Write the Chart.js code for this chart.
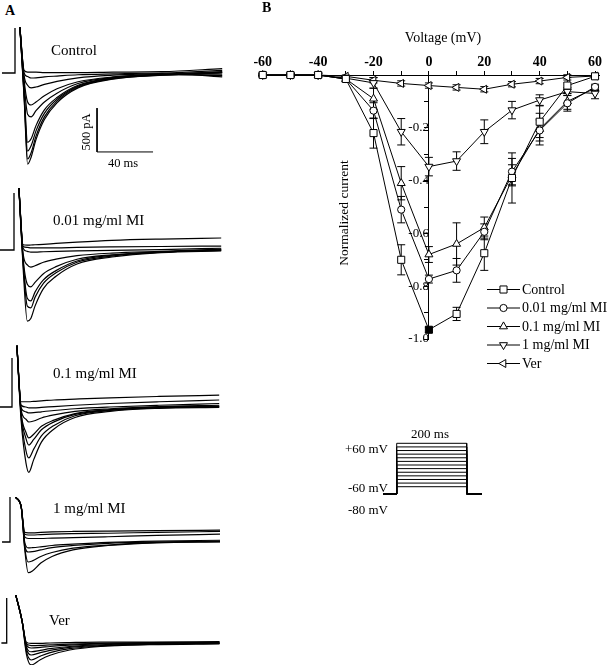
<!DOCTYPE html>
<html><head><meta charset="utf-8">
<script src="https://cdn.jsdelivr.net/npm/chart.js@4.4.1/dist/chart.umd.min.js"></script>
<style>
html,body{margin:0;padding:0;background:#fff;overflow:hidden;width:609px;height:665px;}
#wrap{position:relative;width:609px;height:665px;font-family:"Liberation Serif","Times New Roman",serif;color:#000;}
canvas{position:absolute;display:block;}
.t{position:absolute;white-space:nowrap;line-height:1;}
.c{transform:translate(-50%,-50%);}
.l{transform:translateY(-50%);}
.r{transform:translateY(-50%);text-align:right;}
.rot{transform:translate(-50%,-50%) rotate(-90deg);}
</style></head><body><div id="wrap">
<canvas id="cControl"></canvas>
<canvas id="c001"></canvas>
<canvas id="c01"></canvas>
<canvas id="c1"></canvas>
<canvas id="cVer"></canvas>
<canvas id="cIV"></canvas>
<canvas id="cProt"></canvas>

<div class="t l" style="left:5px;top:11px;font-size:14px;font-weight:bold;">A</div>
<div class="t l" style="left:262px;top:8px;font-size:14px;font-weight:bold;">B</div>
<div class="t l" style="left:51px;top:50px;font-size:15px;">Control</div>
<div class="t rot" style="left:86px;top:132px;font-size:12.5px;">500 pA</div>
<div class="t c" style="left:123px;top:163px;font-size:12.5px;">40 ms</div>
<div class="t l" style="left:53px;top:220px;font-size:15px;">0.01 mg/ml MI</div>
<div class="t l" style="left:53px;top:373px;font-size:15px;">0.1 mg/ml MI</div>
<div class="t l" style="left:53px;top:508px;font-size:15px;">1 mg/ml MI</div>
<div class="t l" style="left:49px;top:620px;font-size:15px;">Ver</div>
<div class="t c" style="left:443px;top:38px;font-size:14px;">Voltage (mV)</div>
<div class="t c" style="left:430px;top:433px;font-size:13px;">200 ms</div>
<div class="t r" style="right:221px;top:448px;font-size:13px;">+60 mV</div>
<div class="t r" style="right:221px;top:487px;font-size:13px;">-60 mV</div>
<div class="t r" style="right:221px;top:509px;font-size:13px;">-80 mV</div>
</div>
<script>
// ================= DATA =================
// Panel B: normalized I-V relationship
const voltages   = [-60, -50, -40, -30, -20, -10, 0, 10, 20, 30, 40, 50, 60];
const control    = [0, 0, 0, -0.015, -0.22, -0.70, -0.965, -0.905, -0.675, -0.39, -0.177, -0.04, -0.005];
const controlErr = [0.005, 0.005, 0.005, 0.01, 0.057, 0.057, 0.01, 0.025, 0.065, 0.095, 0.06, 0.03, 0.01];
const mi001      = [0, 0, 0, -0.015, -0.135, -0.51, -0.773, -0.74, -0.594, -0.366, -0.21, -0.107, -0.045];
const mi001Err   = [0.005, 0.005, 0.005, 0.01, 0.03, 0.05, 0.015, 0.045, 0.03, 0.05, 0.04, 0.03, 0.01];
const mi01       = [0, 0, 0, -0.015, -0.09, -0.41, -0.68, -0.64, -0.578, -0.38, -0.205, -0.10, -0.05];
const mi01Err    = [0.005, 0.005, 0.005, 0.01, 0.04, 0.063, 0.03, 0.08, 0.04, 0.04, 0.06, 0.03, 0.01];
const mi1        = [0, 0, 0, -0.012, -0.03, -0.215, -0.347, -0.326, -0.215, -0.133, -0.095, -0.063, -0.07];
const mi1Err     = [0.005, 0.005, 0.005, 0.01, 0.02, 0.05, 0.035, 0.035, 0.045, 0.033, 0.02, 0.015, 0.02];
const ver        = [0, 0, 0, -0.005, -0.02, -0.032, -0.04, -0.047, -0.054, -0.035, -0.023, -0.009, -0.004];
const verErr     = [0.005, 0.005, 0.005, 0.005, 0.01, 0.01, 0.01, 0.01, 0.01, 0.01, 0.01, 0.01, 0.01];
const seriesLabels = ['Control', '0.01 mg/ml MI', '0.1 mg/ml MI', '1 mg/ml MI', 'Ver'];
const yAxisTitle = 'Normalized current';
const controlFilledAt = [0];   // control marker drawn solid at 0 mV

// Panel A: current traces (time in ms after step, current in pA)
const controlTimes = [3.5, 6.5, 9, 11.5, 15, 21, 30, 45, 70, 105, 148];
const controlTraces = [
  [520, -280, -1040, -960, -760, -530, -340, -170, -70, -25, 0],
  [520, -260, -980, -910, -720, -500, -320, -160, -65, -25, 5],
  [520, -230, -890, -830, -660, -460, -300, -150, -60, -20, 10],
  [520, -200, -790, -750, -600, -420, -280, -140, -55, -20, -20],
  [520, -120, -470, -500, -430, -330, -230, -120, -50, -15, 15],
  [520, -80, -330, -365, -330, -260, -180, -100, -45, -15, -30],
  [520, -30, -140, -170, -160, -130, -95, -55, -25, -5, 30],
  [520, 0, -40, -57, -55, -45, -35, -20, -10, 0, -45],
  [520, 30, 10, 10, 10, 5, 5, 5, 10, 15, 50]
];
const mi001Times = [3.5, 6.5, 9.5, 12, 15, 21, 30, 45, 70, 105, 148];
const mi001Traces = [
  [707, -200, -810, -780, -640, -440, -300, -160, -80, -30, -10],
  [707, -150, -640, -660, -540, -380, -260, -140, -70, -25, -5],
  [707, -120, -550, -580, -480, -340, -235, -125, -60, -25, 0],
  [707, -90, -390, -420, -370, -270, -190, -105, -55, -20, 5],
  [707, -40, -170, -195, -180, -140, -105, -65, -35, -15, 10],
  [707, 20, -15, -25, -25, -20, -15, -10, -5, 5, 20],
  [707, 40, 30, 25, 25, 25, 25, 30, 35, 40, 45],
  [707, 60, 55, 57, 60, 65, 75, 90, 110, 125, 137]
];
const mi01Times = [3.5, 6.5, 10, 12, 15.5, 21, 30, 45, 70, 105, 148];
const mi01Traces = [
  [700, -150, -640, -745, -600, -400, -250, -120, -50, -15, -5],
  [700, -110, -500, -580, -480, -330, -210, -100, -40, -10, 0],
  [700, -80, -360, -433, -370, -260, -170, -85, -35, -5, 5],
  [700, -60, -290, -353, -310, -220, -150, -75, -30, 0, 10],
  [700, -30, -140, -171, -160, -125, -90, -50, -20, 5, 20],
  [700, -10, -55, -68, -65, -55, -40, -20, 0, 20, 40],
  [700, 20, 0, -10, -10, -5, 5, 20, 40, 60, 80],
  [700, 60, 60, 60, 65, 70, 80, 90, 105, 120, 135]
];
const mi1Times = [4, 8, 10.5, 13, 16, 22, 30, 45, 70, 105, 150];
const mi1Traces = [
  [510, 400, -80, -350, -330, -240, -165, -90, -40, -10, 0],
  [510, 400, -60, -228, -215, -165, -120, -70, -35, -5, 5],
  [510, 400, -30, -114, -110, -90, -65, -40, -15, 0, 10],
  [510, 400, 0, -68, -65, -55, -40, -25, -5, 10, 20],
  [510, 400, 60, 40, 40, 40, 45, 50, 60, 75, 90],
  [510, 400, 90, 80, 80, 85, 90, 95, 100, 110, 120],
  [510, 400, 110, 105, 105, 110, 115, 120, 125, 130, 135]
];
const verTimes = [6.5, 11, 14, 17.5, 24, 31, 45, 67, 102, 152];
const verTraces = [
  [547, 250, -120, -250, -190, -140, -80, -40, -20, -10],
  [547, 250, -90, -194, -150, -110, -65, -35, -15, -5],
  [547, 250, -60, -137, -110, -85, -50, -30, -10, -5],
  [547, 250, -40, -100, -85, -65, -40, -20, -5, 0],
  [547, 250, -20, -57, -50, -40, -25, -10, 0, 5],
  [547, 250, -5, -30, -28, -22, -12, -5, 5, 10],
  [547, 250, 10, -5, -5, 0, 5, 10, 10, 15]
];
// voltage-step marker drawn at the start of each panel: [lead-in (ms), step height (pA)]
const stepMarkers = { control: [-9.3, 513], mi001: [-10, 650], mi01: [-8.6, 559], mi1: [-5.7, 513], ver: [-3.8, 513] };
// scale bar: 500 pA / 40 ms
const scaleBar = { t: 58.6, i: -400, dt: 40, di: 500 };

// Inset: voltage protocol
const protocolLevels = [-60, -50, -40, -30, -20, -10, 0, 10, 20, 30, 40, 50, 60];
const holdingPotential = -80;
const protocolTimes = [-39, 0, 200, 243];   // start, step on, step off, end (ms)

// ================= RENDERING =================
Chart.defaults.font.family = '"Liberation Serif", "Times New Roman", serif';
Chart.defaults.color = '#000';

function placeCanvas(id, left, top, w, h) {
  const c = document.getElementById(id);
  c.width = w; c.height = h;
  c.style.left = left + 'px'; c.style.top = top + 'px';
  c.style.width = w + 'px'; c.style.height = h + 'px';
  return c;
}

const PX_PER_MS = 1.4, PA_PER_PX = 11.4, PANEL_W = 245;
const panelDefs = [
  { id: 'cControl', top: 20, bottom: 178, baseY: 73, stepX: 15, times: controlTimes, traces: controlTraces, step: stepMarkers.control, bar: true },
  { id: 'c001', top: 185, bottom: 335, baseY: 250, stepX: 14, times: mi001Times, traces: mi001Traces, step: stepMarkers.mi001 },
  { id: 'c01', top: 340, bottom: 485, baseY: 407, stepX: 12, times: mi01Times, traces: mi01Traces, step: stepMarkers.mi01 },
  { id: 'c1', top: 490, bottom: 585, baseY: 542, stepX: 10, times: mi1Times, traces: mi1Traces, step: stepMarkers.mi1 },
  { id: 'cVer', top: 590, bottom: 665, baseY: 643, stepX: 6.7, times: verTimes, traces: verTraces, step: stepMarkers.ver }
];

panelDefs.forEach(p => {
  const c = placeCanvas(p.id, 0, p.top, PANEL_W, p.bottom - p.top);
  const datasets = p.traces.map(vals => ({
    data: p.times.map((t, i) => ({ x: t, y: vals[i] })),
    borderColor: '#000', borderWidth: 1.2, pointRadius: 0,
    cubicInterpolationMode: 'monotone', fill: false
  }));
  datasets.push({
    data: [{ x: p.step[0], y: 0 }, { x: 0, y: 0 }, { x: 0, y: p.step[1] }],
    borderColor: '#000', borderWidth: 1.3, pointRadius: 0, tension: 0, fill: false
  });
  if (p.bar) {
    datasets.push({
      data: [{ x: scaleBar.t, y: scaleBar.i }, { x: scaleBar.t, y: scaleBar.i - scaleBar.di },
             { x: scaleBar.t + scaleBar.dt, y: scaleBar.i - scaleBar.di }],
      borderColor: '#000', borderWidth: 1, pointRadius: 0, tension: 0, fill: false
    });
  }
  new Chart(c, {
    type: 'line',
    data: { datasets },
    options: {
      responsive: false, animation: false, events: [],
      layout: { padding: 0 },
      plugins: { legend: { display: false }, tooltip: { enabled: false } },
      scales: {
        x: { type: 'linear', display: false, min: -p.stepX / PX_PER_MS, max: (PANEL_W - p.stepX) / PX_PER_MS },
        y: { type: 'linear', display: false, min: -(p.bottom - p.baseY) * PA_PER_PX, max: (p.baseY - p.top) * PA_PER_PX }
      }
    }
  });
});

// ---- Panel B ----
const seriesDefs = [
  { values: control, err: controlErr, style: 'rect', r: 5, rot: 0 },
  { values: mi001, err: mi001Err, style: 'circle', r: 3.6, rot: 0 },
  { values: mi01, err: mi01Err, style: 'triangle', r: 4.6, rot: 0 },
  { values: mi1, err: mi1Err, style: 'triangle', r: 4.6, rot: 180 },
  { values: ver, err: verErr, style: 'triangle', r: 4.6, rot: 270 }
];

const errorBarPlugin = {
  id: 'errorBars',
  beforeDatasetsDraw(chart) {
    const { ctx } = chart; const xs = chart.scales.x, ys = chart.scales.y;
    ctx.save(); ctx.strokeStyle = '#000'; ctx.lineWidth = 1;
    chart.data.datasets.forEach(ds => {
      ds.data.forEach((p, i) => {
        const e = ds.errors[i]; if (!e) return;
        const px = xs.getPixelForValue(p.x);
        const y1 = ys.getPixelForValue(p.y + e), y2 = ys.getPixelForValue(p.y - e);
        ctx.beginPath();
        ctx.moveTo(px, y1); ctx.lineTo(px, y2);
        ctx.moveTo(px - 4, y1); ctx.lineTo(px + 4, y1);
        ctx.moveTo(px - 4, y2); ctx.lineTo(px + 4, y2);
        ctx.stroke();
      });
    });
    ctx.restore();
  }
};

const IV_LEFT = 240;
const legendRowsY = [289.5, 308, 326.5, 345, 363.5];
const legendPlugin = {
  id: 'customLegend',
  afterDraw(chart) {
    const { ctx } = chart;
    ctx.save();
    chart.data.datasets.forEach((ds, i) => {
      const y = legendRowsY[i];
      const x0 = 487 - IV_LEFT, x1 = 520 - IV_LEFT, xm = 503.5 - IV_LEFT;
      ctx.strokeStyle = '#000'; ctx.lineWidth = 1;
      ctx.beginPath(); ctx.moveTo(x0, y); ctx.lineTo(x1, y); ctx.stroke();
      ctx.fillStyle = '#fff'; ctx.strokeStyle = '#000'; ctx.lineWidth = 1;
      Chart.helpers.drawPoint(ctx, { pointStyle: ds.pointStyle, rotation: ds.pointRotation, radius: ds.pointRadius, borderWidth: 1 }, xm, y);
      ctx.fillStyle = '#000';
      ctx.font = '14px "Liberation Serif", serif';
      ctx.textBaseline = 'middle'; ctx.textAlign = 'left';
      ctx.fillText(ds.label, 522 - IV_LEFT, y + 0.5);
    });
    // rotated y-axis title, placed away from the centred axis as in the figure
    ctx.save();
    ctx.translate(344 - IV_LEFT, 213);
    ctx.rotate(-Math.PI / 2);
    ctx.fillStyle = '#000';
    ctx.font = '13.5px "Liberation Serif", serif';
    ctx.textAlign = 'center'; ctx.textBaseline = 'middle';
    ctx.fillText(yAxisTitle, 0, 0);
    ctx.restore();
    ctx.restore();
  }
};

const ivCanvas = placeCanvas('cIV', IV_LEFT, 0, 369, 380);
new Chart(ivCanvas, {
  type: 'line',
  data: {
    datasets: seriesDefs.map((s, k) => ({
      label: seriesLabels[k],
      data: voltages.map((v, i) => ({ x: v, y: s.values[i] })),
      errors: s.err,
      borderColor: '#000', borderWidth: 1, tension: 0, fill: false,
      pointStyle: s.style, pointRotation: s.rot, pointRadius: s.r,
      pointBorderColor: '#000', pointBorderWidth: 1,
      pointBackgroundColor: k === 0 ? (c => (c.raw && controlFilledAt.includes(c.raw.x)) ? '#000' : '#fff') : '#fff',
      clip: false
    }))
  },
  options: {
    responsive: false, animation: false, events: [],
    layout: { padding: { left: 18.6, right: 9.8, top: 54.2, bottom: 41 } },
    plugins: { legend: { display: false }, tooltip: { enabled: false } },
    scales: {
      x: {
        type: 'linear', position: 'top', min: -61.5, max: 61.5,
        ticks: { stepSize: 10, includeBounds: false, autoSkip: false, maxRotation: 0, padding: 0,
          font: { size: 14, weight: 'bold' }, color: '#000',
          callback: v => (Math.round(v) % 20 === 0) ? String(Math.round(v)) : '' },
        grid: { drawOnChartArea: false, tickLength: 4, color: '#000', lineWidth: 1 },
        border: { display: true, color: '#000', width: 1 }
      },
      y: {
        type: 'linear', position: { x: 0 }, min: -1, max: 0,
        ticks: { stepSize: 0.1, includeBounds: false, autoSkip: false, padding: -2,
          font: { size: 13 }, color: '#000',
          callback: v => { const k = Math.round(v * 10); return (k !== 0 && k % 2 === 0) ? (k / 10).toFixed(1) : ''; } },
        grid: { drawOnChartArea: false, tickLength: 4, color: '#000', lineWidth: 1 },
        border: { display: true, color: '#000', width: 1 }
      }
    }
  },
  plugins: [errorBarPlugin, legendPlugin]
});

// ---- Protocol inset ----
const PROT = { left: 370, top: 420, w: 130, h: 90, x0: 396.7, pxPerMs: 0.35, y60: 443.3, pxPerMv: 0.3617 };
const protCanvas = placeCanvas('cProt', PROT.left, PROT.top, PROT.w, PROT.h);
new Chart(protCanvas, {
  type: 'line',
  data: {
    datasets: protocolLevels.map(L => ({
      data: [
        { x: protocolTimes[0], y: holdingPotential }, { x: protocolTimes[1], y: holdingPotential },
        { x: protocolTimes[1], y: L }, { x: protocolTimes[2], y: L },
        { x: protocolTimes[2], y: holdingPotential }, { x: protocolTimes[3], y: holdingPotential }
      ],
      borderColor: '#000', borderWidth: 1, pointRadius: 0, tension: 0, fill: false
    }))
  },
  options: {
    responsive: false, animation: false, events: [],
    layout: { padding: 0 },
    plugins: { legend: { display: false }, tooltip: { enabled: false } },
    scales: {
      x: { type: 'linear', display: false,
           min: (PROT.left - PROT.x0) / PROT.pxPerMs, max: (PROT.left + PROT.w - PROT.x0) / PROT.pxPerMs },
      y: { type: 'linear', display: false,
           min: 60 - (PROT.top + PROT.h - PROT.y60) / PROT.pxPerMv, max: 60 + (PROT.y60 - PROT.top) / PROT.pxPerMv }
    }
  }
});
</script>
</body></html>
